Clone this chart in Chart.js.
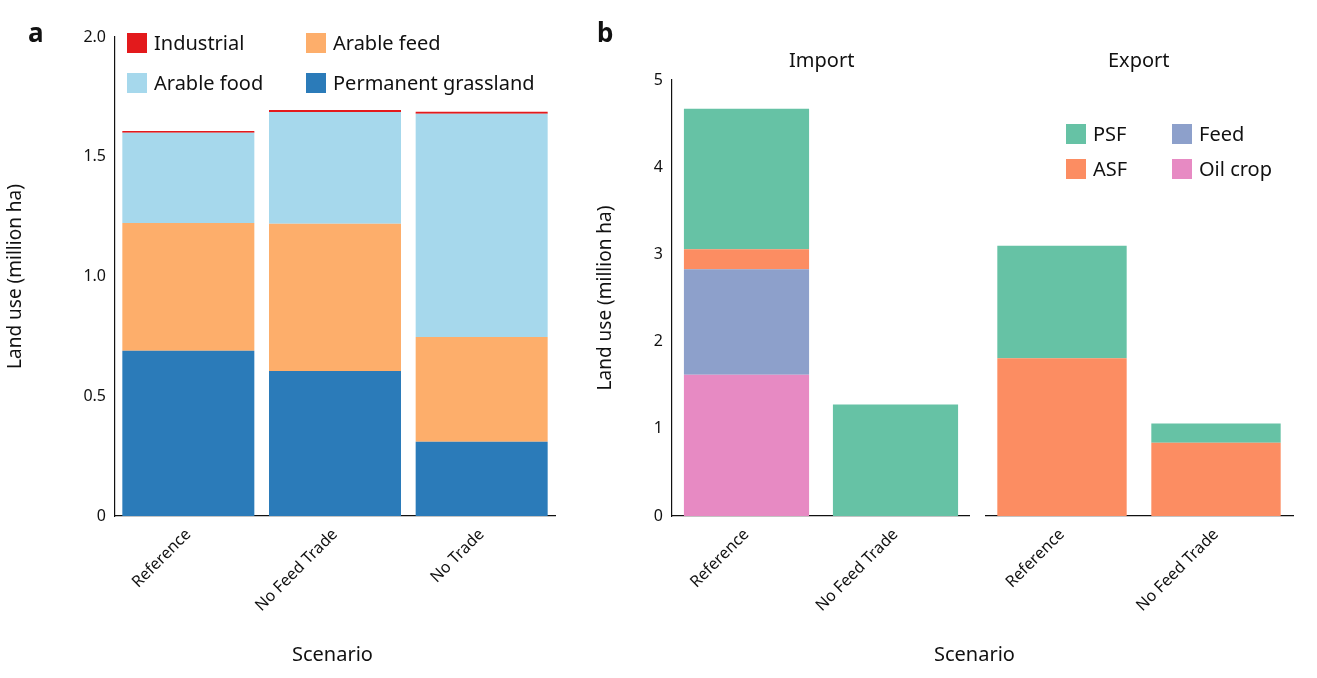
<!DOCTYPE html>
<html>
<head>
<meta charset="utf-8">
<script src="https://cdn.jsdelivr.net/npm/chart.js@4.4.1/dist/chart.umd.min.js"></script>
<style>
  body { margin: 0; background: #fff; font-family: "Noto Sans", sans-serif; }
  #wrap { position: relative; width: 1317px; height: 678px; }
  canvas { position: absolute; top: 0; }
  .lbl { position: absolute; color: #111; white-space: nowrap; }
  .panel { font-weight: bold; font-size: 26px; }
  .leg { position: absolute; font-size: 20px; color: #111; display: flex; align-items: center; }
  .leg i { display: inline-block; width: 20px; height: 20px; margin-right: 7px; }
</style>
</head>
<body>
<div id="wrap">
  <canvas id="ca" style="left:0;width:570px;height:678px"></canvas>
  <canvas id="cb1" style="left:590px;width:380px;height:678px"></canvas>
  <canvas id="cb2" style="left:985px;width:320px;height:678px"></canvas>

  <div class="lbl panel" style="left:28px;top:14px">a</div>
  <div class="lbl panel" style="left:597px;top:14px">b</div>

  <div class="leg" style="left:127px;top:29px"><i style="background:#e31a1c"></i>Industrial</div>
  <div class="leg" style="left:306px;top:29px"><i style="background:#fdae6b"></i>Arable feed</div>
  <div class="leg" style="left:127px;top:69px"><i style="background:#a6d8ec"></i>Arable food</div>
  <div class="leg" style="left:306px;top:69px"><i style="background:#2b7bb9"></i>Permanent grassland</div>

  <div class="lbl" style="left:292px;top:640px;font-size:20px">Scenario</div>
  <div class="lbl" style="left:934px;top:640px;font-size:20px">Scenario</div>
  <div class="lbl" style="left:789px;top:46px;font-size:20px">Import</div>
  <div class="lbl" style="left:1108px;top:46px;font-size:20px">Export</div>

  <div class="leg" style="left:1066px;top:120px"><i style="background:#66c2a5"></i>PSF</div>
  <div class="leg" style="left:1172px;top:120px"><i style="background:#8da0cb"></i>Feed</div>
  <div class="leg" style="left:1066px;top:155px"><i style="background:#fc8d62"></i>ASF</div>
  <div class="leg" style="left:1172px;top:155px"><i style="background:#e78ac3"></i>Oil crop</div>
</div>
<script>
// panel a
const scenariosA = ['Reference', 'No Feed Trade', 'No Trade']
const grassland = [0.69, 0.605, 0.31]
const arableFeed = [0.533, 0.615, 0.437]
const arableFood = [0.377, 0.467, 0.933]
const industrial = [0.007, 0.008, 0.008]
const ticksA = [0, 0.5, 1.0, 1.5, 2.0]

// panel b
const scenariosB = ['Reference', 'No Feed Trade']
const importOil = [1.62, 0]
const importFeed = [1.21, 0]
const importASF = [0.23, 0]
const importPSF = [1.61, 1.28]
const exportASF = [1.81, 0.84]
const exportPSF = [1.29, 0.22]
const ticksB = [0, 1, 2, 3, 4, 5]

Chart.defaults.font.family = '"Noto Sans", sans-serif'
Chart.defaults.color = '#111'
Chart.defaults.animation = false

const tickFont = { size: 16 }

function xScale(height) {
    return {
        stacked: true,
        grid: { display: false, drawTicks: true, tickLength: 6, color: '#111' },
        border: { color: '#111', width: 1.2 },
        ticks: { font: tickFont, maxRotation: 45, minRotation: 45, color: '#111' },
        afterFit: (s) => { s.height = height }
    }
}

function ds(label, data, color, bp) {
    return { label: label, data: data, backgroundColor: color, borderWidth: 0, barPercentage: bp, categoryPercentage: 1 }
}

new Chart(document.getElementById('ca'), {
    type: 'bar',
    data: {
        labels: scenariosA,
        datasets: [
            ds('Permanent grassland', grassland, '#2b7bb9', 0.9),
            ds('Arable feed', arableFeed, '#fdae6b', 0.9),
            ds('Arable food', arableFood, '#a6d8ec', 0.9),
            ds('Industrial', industrial, '#e31a1c', 0.9),
        ]
    },
    options: {
        responsive: false,
        layout: { padding: { top: 37, right: 15, left: 0, bottom: 0 } },
        plugins: { legend: { display: false }, tooltip: { enabled: false } },
        scales: {
            x: xScale(162),
            y: {
                stacked: true, min: 0, max: 2,
                afterBuildTicks: (s) => { s.ticks = ticksA.map(v => ({ value: v })) },
                grid: { display: false, tickLength: 6, color: '#111' },
                border: { color: '#111', width: 1.2 },
                ticks: { font: tickFont, callback: (v) => v === 0 ? '0' : v.toFixed(1) },
                title: { display: true, text: 'Land use (million ha)', font: { size: 19 } },
                afterFit: (s) => { s.width = 115 }
            }
        }
    }
})

new Chart(document.getElementById('cb1'), {
    type: 'bar',
    data: {
        labels: scenariosB,
        datasets: [
            ds('Oil crop', importOil, '#e78ac3', 0.84),
            ds('Feed', importFeed, '#8da0cb', 0.84),
            ds('ASF', importASF, '#fc8d62', 0.84),
            ds('PSF', importPSF, '#66c2a5', 0.84),
        ]
    },
    options: {
        responsive: false,
        layout: { padding: { top: 80, right: 0, left: 0, bottom: 0 } },
        plugins: { legend: { display: false }, tooltip: { enabled: false } },
        scales: {
            x: xScale(162),
            y: {
                stacked: true, min: 0, max: 5,
                afterBuildTicks: (s) => { s.ticks = ticksB.map(v => ({ value: v })) },
                grid: { display: false, tickLength: 6, color: '#111' },
                border: { color: '#111', width: 1.2 },
                ticks: { font: tickFont },
                title: { display: true, text: 'Land use (million ha)', font: { size: 19 } },
                afterFit: (s) => { s.width = 82 }
            }
        }
    }
})

new Chart(document.getElementById('cb2'), {
    type: 'bar',
    data: {
        labels: scenariosB,
        datasets: [
            ds('ASF', exportASF, '#fc8d62', 0.84),
            ds('PSF', exportPSF, '#66c2a5', 0.84),
        ]
    },
    options: {
        responsive: false,
        layout: { padding: { top: 80, right: 12, left: 0, bottom: 0 } },
        plugins: { legend: { display: false }, tooltip: { enabled: false } },
        scales: {
            x: xScale(162),
            y: { stacked: true, min: 0, max: 5, display: false }
        }
    }
})
</script>
</body>
</html>
